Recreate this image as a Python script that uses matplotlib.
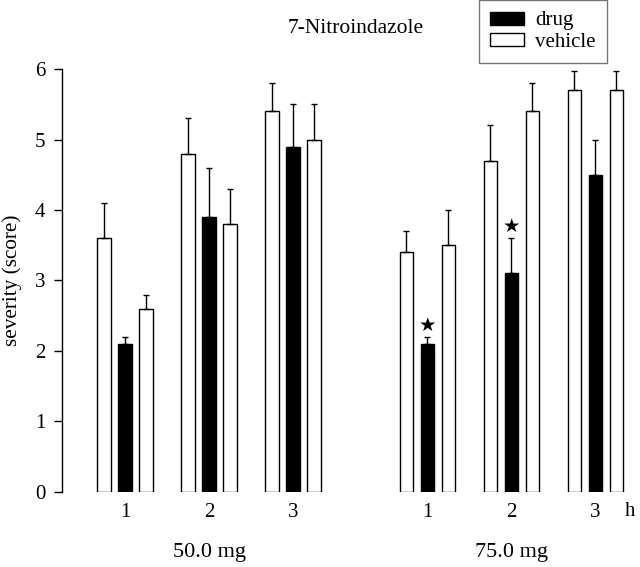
import matplotlib
matplotlib.use("Agg")
import matplotlib.pyplot as plt
import numpy as np

plt.rcParams['font.family'] = ['Liberation Serif', 'DejaVu Serif']

hours = ["1", "2", "3"]
doses = ["50.0 mg", "75.0 mg"]
# per dose: vehicle (before), drug, vehicle (after)
veh_pre = [[3.6, 4.8, 5.4], [3.4, 4.7, 5.7]]
veh_pre_err = [[0.5, 0.5, 0.4], [0.3, 0.5, 0.27]]
drug = [[2.1, 3.9, 4.9], [2.1, 3.1, 4.5]]
drug_err = [[0.1, 0.7, 0.6], [0.1, 0.5, 0.5]]
veh_post = [[2.6, 3.8, 5.0], [3.5, 5.4, 5.7]]
veh_post_err = [[0.2, 0.5, 0.5], [0.5, 0.4, 0.27]]
significant = [[False, False, False], [True, True, False]]

fig = plt.figure(figsize=(6.4, 5.67), dpi=100)
ax = fig.add_axes([0.0969, 0.1323, 0.903, 0.746])

group_offset = [0.0, 3.6]
off = 0.25
w = 0.16
ekw = dict(ecolor='black', elinewidth=1.0, capsize=2.5, capthick=1.0, clip_on=False)

for d in range(2):
    centers = np.arange(3) + group_offset[d]
    lo = np.zeros(3)
    ax.bar(centers - off, veh_pre[d], w, color='white', edgecolor='black', linewidth=1.0,
           yerr=[lo, veh_pre_err[d]], error_kw=ekw, label='vehicle' if d == 0 else None, zorder=2)
    ax.bar(centers, drug[d], w, color='black', edgecolor='black', linewidth=1.0,
           yerr=[lo, drug_err[d]], error_kw=ekw, label='drug' if d == 0 else None, zorder=2)
    ax.bar(centers + off, veh_post[d], w, color='white', edgecolor='black', linewidth=1.0,
           yerr=[lo, veh_post_err[d]], error_kw=ekw, zorder=2)
    for i in range(3):
        if significant[d][i]:
            ax.text(centers[i], drug[d][i] + drug_err[d][i] + 0.16, '\u2605', ha='center', va='center',
                    fontsize=14, family=['DejaVu Sans'])

ticks = np.concatenate([np.arange(3) + g for g in group_offset])
ax.set_xticks(ticks)
ax.set_xticklabels(hours * 2, fontsize=15)
ax.tick_params(axis='x', length=0, pad=8)
ax.set_xlim(-0.75, 6.13)
ax.set_ylim(0, 6)
ax.set_yticks(range(7))
ax.tick_params(axis='y', labelsize=15, length=6, width=1.0, direction='out', pad=6)
for s in ['top', 'right', 'bottom']:
    ax.spines[s].set_visible(False)
ax.spines['left'].set_linewidth(1.0)

ax.set_ylabel('severity (score)', fontsize=15.3)
ax.yaxis.set_label_coords(-0.07, 0.5)
ax.text(6.01, -0.27, 'h', fontsize=15, ha='center', va='center')
for d in range(2):
    ax.text(1 + group_offset[d], -0.86, doses[d], fontsize=16, ha='center', va='center')

fig.text(0.555, 0.949, '7-Nitroindazole', fontsize=15.5, ha='center', va='center')

handles, labels = ax.get_legend_handles_labels()
order = [labels.index('drug'), labels.index('vehicle')]
leg = fig.legend([handles[i] for i in order], [labels[i] for i in order],
                 loc='upper left', bbox_to_anchor=(0.748, 1.0), fontsize=15,
                 frameon=True, fancybox=False, edgecolor='#555555', borderaxespad=0,
                 handlelength=1.6, handleheight=0.6, borderpad=0.55, labelspacing=0.1,
                 handletextpad=0.55)
leg.get_frame().set_linewidth(1.0)

fig.savefig('out.png', dpi=100)
